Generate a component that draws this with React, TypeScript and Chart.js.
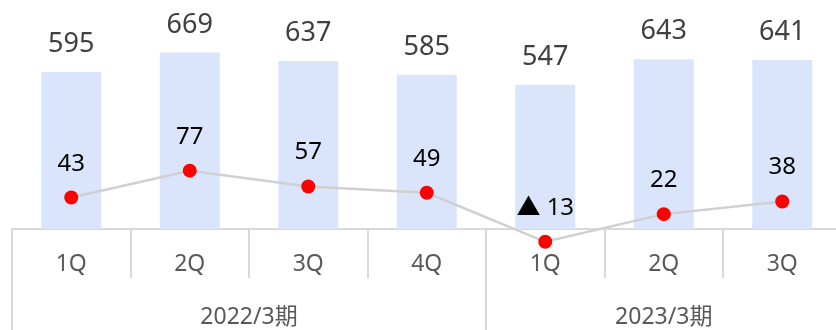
import React, { useEffect, useRef } from "react";
import { Chart, registerables } from "chart.js";

Chart.register(...registerables);

const quarters = ["1Q", "2Q", "3Q", "4Q", "1Q", "2Q", "3Q"];
const fiscalGroups = ["2022/3期", "2023/3期"];
const groupSizes = [4, 3];
const barValues = [595, 669, 637, 585, 547, 643, 641];
const lineValues = [43, 77, 57, 49, -13, 22, 38];

const FONT = '"Noto Sans", "Noto Sans CJK JP", sans-serif';

const fmtLine = (v: number) => (v < 0 ? "▲ " + Math.abs(v) : String(v));

export default function App() {
  const ref = useRef<HTMLCanvasElement>(null);

  useEffect(() => {
    const canvas = ref.current;
    if (!canvas) return;

    const tablePlugin = {
      id: "tableAxis",
      beforeDatasetsDraw(chart: any) {
        const { ctx, chartArea, scales } = chart;
        const x = scales.x;
        const n = quarters.length;
        const step = (chartArea.right - chartArea.left) / n;
        const bottom = Math.round(scales.y.getPixelForValue(0));
        const H = chart.height;
        const boundary = (i: number) => x.getPixelForValue(0) - step / 2 + i * step;

        ctx.save();
        ctx.strokeStyle = "#d9d9d9";
        ctx.lineWidth = 2;
        ctx.beginPath();
        ctx.moveTo(chartArea.left - 1, bottom);
        ctx.lineTo(chart.width, bottom);
        let acc = 0;
        const groupStarts: number[] = [0];
        groupSizes.forEach((s) => {
          acc += s;
          groupStarts.push(acc);
        });
        for (let i = 0; i <= n; i++) {
          const px = Math.round(boundary(i));
          const isGroup = groupStarts.includes(i);
          ctx.moveTo(px, bottom);
          ctx.lineTo(px, isGroup ? H : bottom + 49);
        }
        ctx.stroke();

        ctx.fillStyle = "#595959";
        ctx.textAlign = "center";
        ctx.textBaseline = "alphabetic";
        ctx.font = `23px ${FONT}`;
        quarters.forEach((q, i) => {
          ctx.fillText(q, x.getPixelForValue(i), bottom + 42);
        });
        ctx.font = `23px ${FONT}`;
        fiscalGroups.forEach((g, gi) => {
          const a = boundary(groupStarts[gi]);
          const b = boundary(groupStarts[gi + 1]);
          ctx.fillText(g, (a + b) / 2, bottom + 95);
        });
        ctx.restore();
      },
      afterDatasetsDraw(chart: any) {
        const { ctx } = chart;
        ctx.save();
        ctx.textAlign = "center";
        ctx.textBaseline = "alphabetic";
        const barMeta = chart.getDatasetMeta(0);
        ctx.fillStyle = "#404040";
        ctx.font = `27px ${FONT}`;
        barMeta.data.forEach((el: any, i: number) => {
          ctx.fillText(String(barValues[i]), el.x, el.y - 20);
        });
        const lineMeta = chart.getDatasetMeta(1);
        ctx.fillStyle = "#000000";
        ctx.font = `24px ${FONT}`;
        lineMeta.data.forEach((el: any, i: number) => {
          ctx.fillText(fmtLine(lineValues[i]), el.x, el.y - 27);
        });
        ctx.restore();
      },
    };

    const chart = new Chart(canvas, {
      type: "bar",
      data: {
        labels: quarters,
        datasets: [
          {
            type: "bar",
            data: barValues,
            backgroundColor: "#dae4fb",
            barPercentage: 0.506,
            categoryPercentage: 1,
            yAxisID: "y",
            order: 2,
          },
          {
            type: "line",
            data: lineValues,
            borderColor: "#d0d0d0",
            borderWidth: 2.5,
            pointRadius: 7,
            pointHoverRadius: 7,
            pointBackgroundColor: "#ff0000",
            pointBorderWidth: 0,
            pointBorderColor: "#ff0000",
            tension: 0,
            clip: false as any,
            yAxisID: "y1",
            order: 1,
          } as any,
        ],
      },
      options: {
        responsive: false,
        animation: false,
        layout: { autoPadding: false, padding: { left: 12, right: 0.5, top: 0, bottom: 80 } },
        plugins: {
          legend: { display: false },
          tooltip: { enabled: false },
        },
        scales: {
          x: { display: false, offset: true },
          y: { display: false, min: -79.6, max: 868 },
          y1: { display: false, min: -23.4, max: 293 },
        },
      },
      plugins: [tablePlugin],
    });

    return () => chart.destroy();
  }, []);

  return (
    <div
      style={{
        position: "absolute",
        left: 0,
        top: 0,
        width: 836,
        height: 330,
        overflow: "hidden",
        background: "#ffffff",
      }}
    >
      <canvas ref={ref} width={842} height={330} style={{ display: "block" }} />
    </div>
  );
}
